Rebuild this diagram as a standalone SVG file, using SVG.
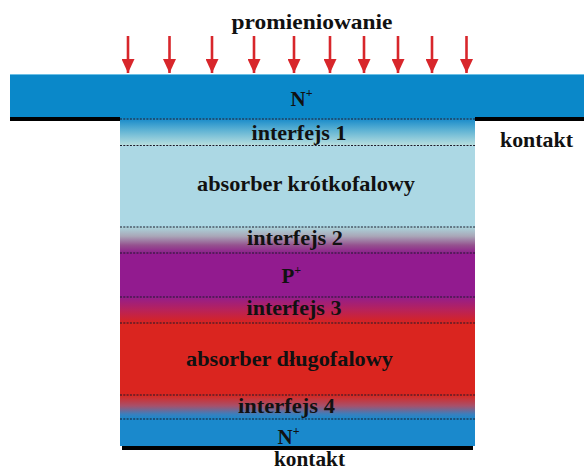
<svg xmlns="http://www.w3.org/2000/svg" width="584" height="470" viewBox="0 0 584 470">
  <defs>
    <linearGradient id="gInt1" x1="0" y1="0" x2="0" y2="1">
      <stop offset="0" stop-color="#1388c9"/>
      <stop offset="0.45" stop-color="#5fb3d4"/>
      <stop offset="1" stop-color="#b9dfdf"/>
    </linearGradient>
    <linearGradient id="gInt2" x1="0" y1="0" x2="0" y2="1">
      <stop offset="0" stop-color="#abd5dc"/>
      <stop offset="0.35" stop-color="#a9a7b8"/>
      <stop offset="0.7" stop-color="#95528f"/>
      <stop offset="1" stop-color="#8e1f8c"/>
    </linearGradient>
    <linearGradient id="gInt3" x1="0" y1="0" x2="0" y2="1">
      <stop offset="0" stop-color="#931d8c"/>
      <stop offset="0.5" stop-color="#b8225a"/>
      <stop offset="1" stop-color="#d9241f"/>
    </linearGradient>
    <linearGradient id="gInt4" x1="0" y1="0" x2="0" y2="1">
      <stop offset="0" stop-color="#d9261f"/>
      <stop offset="0.45" stop-color="#a8506a"/>
      <stop offset="0.8" stop-color="#3a7fbd"/>
      <stop offset="1" stop-color="#1a89cb"/>
    </linearGradient>
    <!-- head drawn along +x so orient="auto" turns it down the shaft -->
    <marker id="arrowHead" viewBox="0 0 10 10" refX="10" refY="5" markerWidth="14" markerHeight="13" markerUnits="userSpaceOnUse" orient="auto" preserveAspectRatio="none">
      <path d="M0,0 L10,5 L0,10 Z" fill="#d8262b"/>
    </marker>
  </defs>
  <style>
    .lbl { font-family: "Liberation Serif", "Times New Roman", serif; font-weight: bold; font-size: 21px; fill: #111; }
    .sup { font-size: 12px; }
    .dots { stroke: #1a1a2a; stroke-width: 1.2; stroke-dasharray: 2 1.3; fill: none; }
    .contact { fill: #000; }
    .ray { stroke: #d8262b; stroke-width: 2.6; fill: none; }
  </style>

  <rect x="0" y="0" width="584" height="470" fill="#ffffff"/>

  <!-- incoming radiation -->
  <g id="radiation">
    <text class="lbl" x="312" y="29" text-anchor="middle" textLength="161" lengthAdjust="spacingAndGlyphs">promieniowanie</text>
  </g>

  <!-- top N+ contact layer -->
  <g id="layer-n-top">
    <rect x="10" y="74" width="574" height="44" fill="#0a88c9"/>
    <line x1="10" y1="74.5" x2="584" y2="74.5" stroke="#6cc0e6" stroke-width="1"/>
    <text class="lbl" x="290.5" y="106">N<tspan class="sup" dy="-9">+</tspan></text>
  </g>

  <g id="contact-top">
    <rect class="contact" x="10" y="117" width="110" height="4"/>
    <rect class="contact" x="475" y="117" width="109" height="4"/>
    <text class="lbl" x="536.5" y="146.5" text-anchor="middle" textLength="73" lengthAdjust="spacingAndGlyphs">kontakt</text>
  </g>

  <g id="interface-1">
    <rect x="120" y="118" width="355" height="27.5" fill="url(#gInt1)"/>
    <text class="lbl" x="299" y="140" text-anchor="middle" textLength="95" lengthAdjust="spacingAndGlyphs">interfejs 1</text>
  </g>

  <g id="absorber-short">
    <rect x="120" y="145.5" width="355" height="81.5" fill="#acd8e4"/>
    <text class="lbl" x="306" y="190.5" text-anchor="middle" textLength="218" lengthAdjust="spacingAndGlyphs">absorber krótkofalowy</text>
  </g>

  <g id="interface-2">
    <rect x="120" y="227" width="355" height="26" fill="url(#gInt2)"/>
    <text class="lbl" x="295" y="245" text-anchor="middle" textLength="96" lengthAdjust="spacingAndGlyphs">interfejs 2</text>
  </g>

  <g id="layer-p">
    <rect x="120" y="253" width="355" height="44" fill="#921b8f"/>
    <text class="lbl" x="281.5" y="283">P<tspan class="sup" dy="-9">+</tspan></text>
  </g>

  <g id="interface-3">
    <rect x="120" y="297" width="355" height="26" fill="url(#gInt3)"/>
    <text class="lbl" x="294" y="315" text-anchor="middle" textLength="95" lengthAdjust="spacingAndGlyphs">interfejs 3</text>
  </g>

  <g id="absorber-long">
    <rect x="120" y="323" width="355" height="72" fill="#da251f"/>
    <text class="lbl" x="289.5" y="366" text-anchor="middle" textLength="207" lengthAdjust="spacingAndGlyphs">absorber długofalowy</text>
  </g>

  <g id="interface-4">
    <rect x="120" y="395" width="355" height="24" fill="url(#gInt4)"/>
    <text class="lbl" x="286.5" y="413" text-anchor="middle" textLength="97" lengthAdjust="spacingAndGlyphs">interfejs 4</text>
  </g>

  <g id="layer-n-bottom">
    <rect x="120" y="419" width="355" height="27" fill="#1a89cc"/>
    <text class="lbl" x="277.5" y="444">N<tspan class="sup" dy="-9">+</tspan></text>
  </g>

  <g id="contact-bottom">
    <rect class="contact" x="122" y="446" width="351" height="4"/>
    <text class="lbl" x="309.5" y="466" text-anchor="middle" textLength="71" lengthAdjust="spacingAndGlyphs">kontakt</text>
  </g>

  <!-- layer boundaries -->
  <g id="boundaries">
    <line class="dots" x1="120" y1="119" x2="475" y2="119"/>
    <line class="dots" x1="120" y1="145.5" x2="475" y2="145.5"/>
    <line class="dots" x1="120" y1="227" x2="475" y2="227"/>
    <line class="dots" x1="120" y1="253" x2="475" y2="253"/>
    <line class="dots" x1="120" y1="297" x2="475" y2="297"/>
    <line class="dots" x1="120" y1="323" x2="475" y2="323"/>
    <line class="dots" x1="120" y1="395" x2="475" y2="395"/>
    <line class="dots" x1="120" y1="419" x2="475" y2="419"/>
  </g>

  <!-- radiation arrows -->
  <g id="connectors">
    <line class="ray" x1="128" y1="36" x2="128" y2="73" marker-end="url(#arrowHead)"/>
    <line class="ray" x1="169.5" y1="36" x2="169.5" y2="73" marker-end="url(#arrowHead)"/>
    <line class="ray" x1="212" y1="36" x2="212" y2="73" marker-end="url(#arrowHead)"/>
    <line class="ray" x1="254" y1="36" x2="254" y2="73" marker-end="url(#arrowHead)"/>
    <line class="ray" x1="294" y1="36" x2="294" y2="73" marker-end="url(#arrowHead)"/>
    <line class="ray" x1="330" y1="36" x2="330" y2="73" marker-end="url(#arrowHead)"/>
    <line class="ray" x1="364" y1="36" x2="364" y2="73" marker-end="url(#arrowHead)"/>
    <line class="ray" x1="398" y1="36" x2="398" y2="73" marker-end="url(#arrowHead)"/>
    <line class="ray" x1="432" y1="36" x2="432" y2="73" marker-end="url(#arrowHead)"/>
    <line class="ray" x1="466.5" y1="36" x2="466.5" y2="73" marker-end="url(#arrowHead)"/>
  </g>
</svg>
